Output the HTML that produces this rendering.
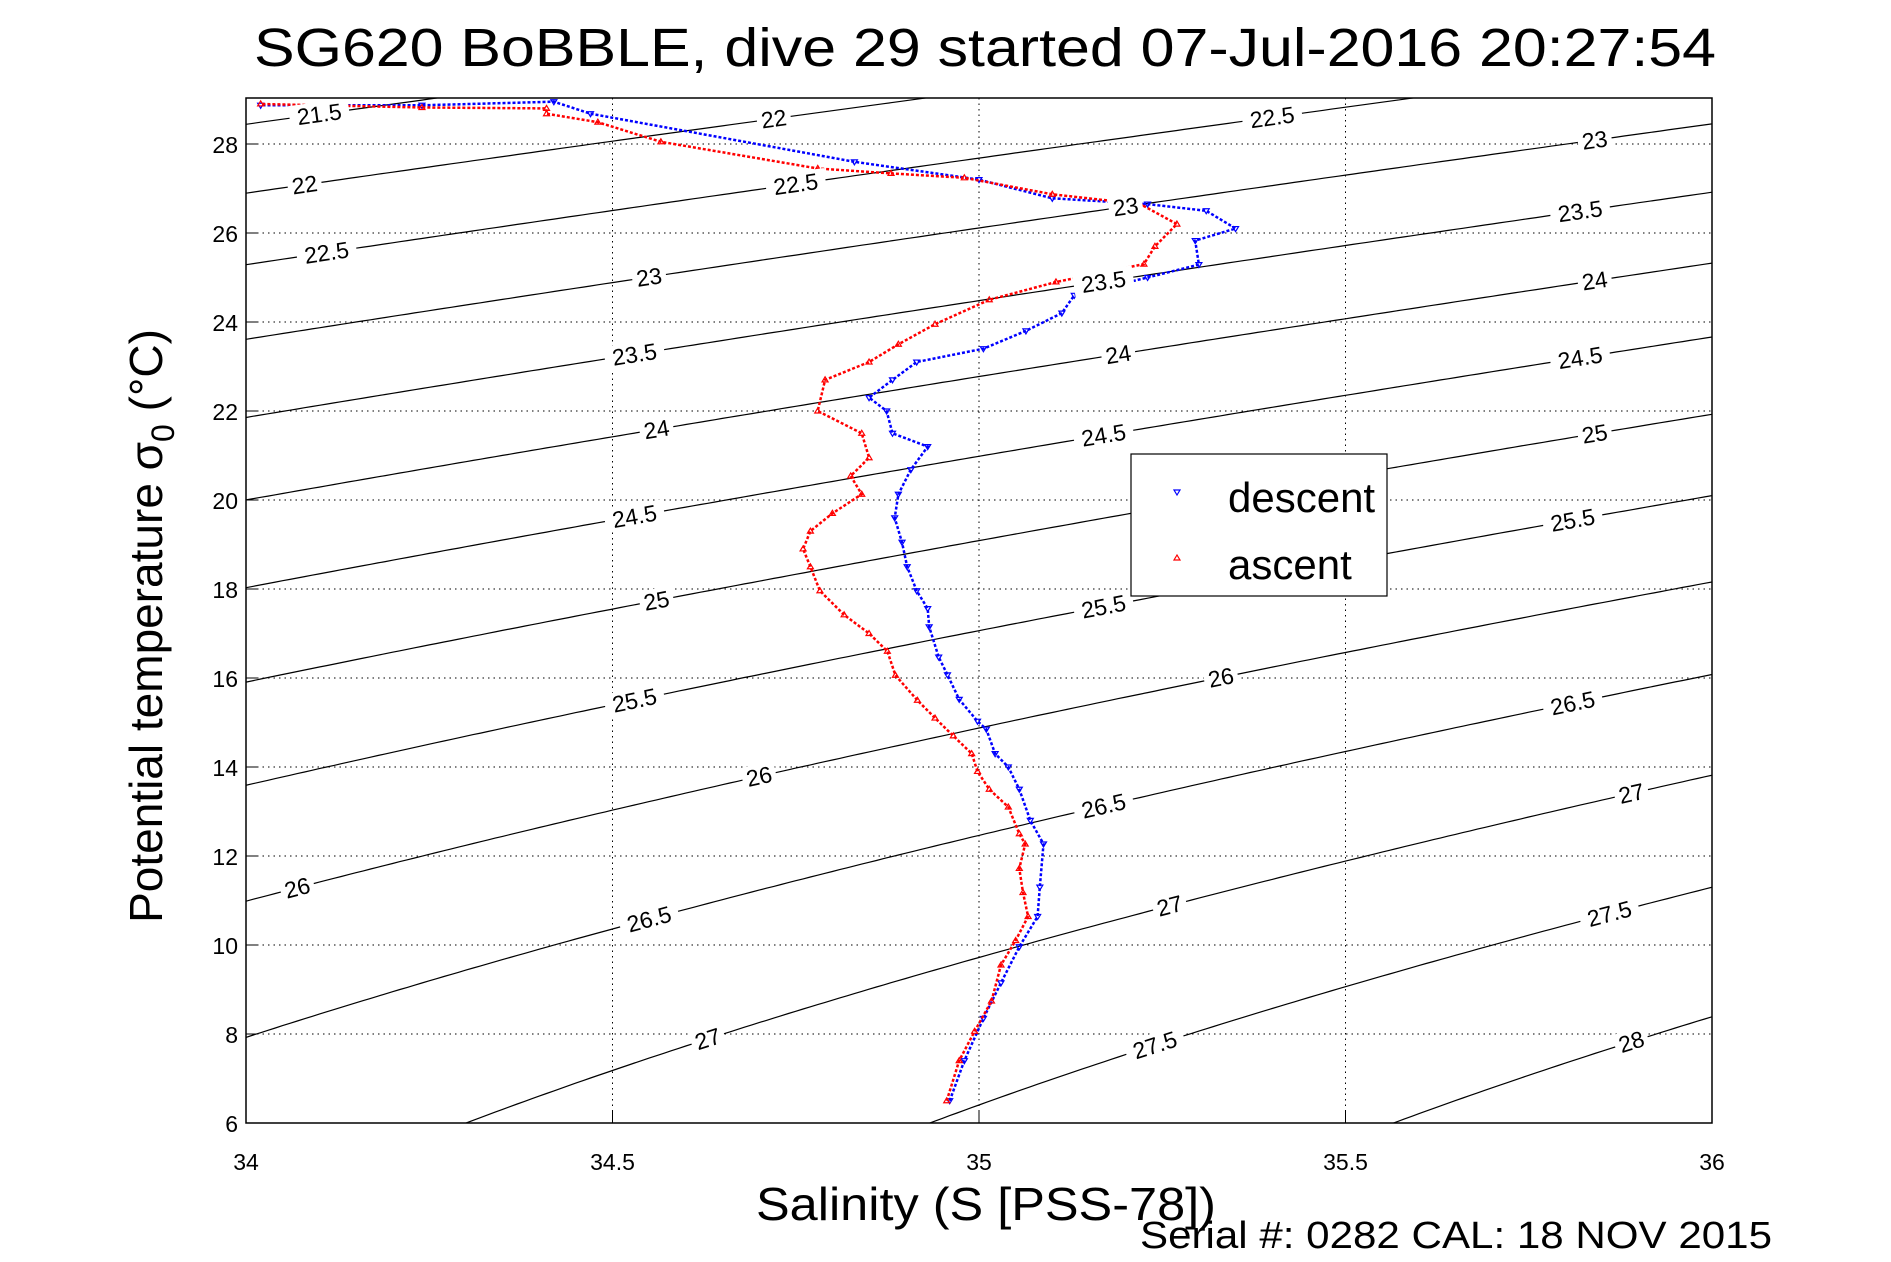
<!DOCTYPE html>
<html><head><meta charset="utf-8"><style>
html,body{margin:0;padding:0;background:#fff;overflow:hidden;width:1891px;height:1262px;}
svg{display:block;font-family:"Liberation Sans",sans-serif;}
</style></head><body>
<svg id="chart" width="1891" height="1262" viewBox="0 0 1891 1262" xmlns="http://www.w3.org/2000/svg">
<defs><clipPath id="plotclip"><rect x="246" y="98" width="1466" height="1025"/></clipPath></defs>
<rect width="1891" height="1262" fill="#fff"/>
<text x="985" y="66" font-size="54" text-anchor="middle" textLength="1462" lengthAdjust="spacingAndGlyphs">SG620 BoBBLE, dive 29 started 07-Jul-2016 20:27:54</text>
<g id="grid"></g>
<g id="contours" clip-path="url(#plotclip)"></g>
<g id="series" clip-path="url(#plotclip)"></g>
<g id="clabels"></g>
<rect x="246" y="98" width="1466" height="1025" fill="none" stroke="#000" stroke-width="1.5"/>
<g id="ticks"></g>
<text transform="translate(162,626) rotate(-90)" font-size="46" text-anchor="middle">Potential temperature σ<tspan font-size="32" dy="12">0</tspan><tspan dy="-12"> (°C)</tspan></text>
<text x="986" y="1220" font-size="46" text-anchor="middle" textLength="460" lengthAdjust="spacingAndGlyphs">Salinity (S [PSS-78])</text>
<text x="1140" y="1248" font-size="38" textLength="632" lengthAdjust="spacingAndGlyphs">Serial #: 0282  CAL: 18 NOV 2015</text>
<g>
<rect x="1131" y="454" width="256" height="142" fill="#fff" stroke="#000" stroke-width="1.2"/>
<path d="M1174,490 L1180,490 L1177,495 Z" fill="none" stroke="#00f" stroke-width="1.2"/>
<text x="1228" y="512" font-size="42">descent</text>
<path d="M1174,560 L1180,560 L1177,555 Z" fill="none" stroke="#f00" stroke-width="1.2"/>
<text x="1228" y="579" font-size="42">ascent</text>
</g>
</svg>
<script>
const xTicks=[34,34.5,35,35.5,36];
const yTicks=[6,8,10,12,14,16,18,20,22,24,26,28];
const sigmaLevels=[21.5,22,22.5,23,23.5,24,24.5,25,25.5,26,26.5,27,27.5,28];
const labelLevels=[21.5,22,22,22.5,22.5,22.5,23,23,23,23.5,23.5,23.5,24,24,24,24.5,24.5,24.5,25,25,25.5,25.5,25.5,26,26,26,26.5,26.5,26.5,27,27,27,27.5,27.5,28];
const labelSal=[34.1,34.08,34.72,34.11,34.75,35.4,34.55,35.2,35.84,34.53,35.17,35.82,34.56,35.19,35.84,34.53,35.17,35.82,34.56,35.84,34.53,35.17,35.81,34.07,34.7,35.33,34.55,35.17,35.81,34.63,35.26,35.89,35.24,35.86,35.89];
const descS=[34.96,34.98,35.006,35.03,35.055,35.08,35.083,35.088,35.07,35.055,35.04,35.022,35.01,34.998,34.973,34.957,34.945,34.932,34.93,34.915,34.902,34.895,34.885,34.89,34.907,34.93,34.882,34.874,34.85,34.882,34.915,35.006,35.064,35.113,35.13,35.23,35.3,35.295,35.35,35.31,35.23,35.1,35.0,34.83,34.47,34.42,34.24,34.02];
const descT=[6.5,7.4,8.35,9.15,9.96,10.64,11.3,12.27,12.8,13.5,14.0,14.3,14.85,15.03,15.52,16.07,16.47,17.15,17.56,17.96,18.5,19.05,19.6,20.13,20.68,21.2,21.5,22.0,22.3,22.7,23.1,23.4,23.8,24.2,24.6,25.0,25.29,25.83,26.1,26.5,26.65,26.78,27.2,27.6,28.68,28.95,28.87,28.87];
const ascS=[34.956,34.973,34.994,35.017,35.03,35.05,35.067,35.06,35.055,35.063,35.055,35.04,35.014,34.998,34.99,34.965,34.94,34.916,34.886,34.875,34.85,34.816,34.783,34.77,34.76,34.77,34.8,34.84,34.825,34.85,34.84,34.78,34.79,34.85,34.89,34.94,35.014,35.105,35.225,35.24,35.27,35.22,35.1,34.98,34.88,34.78,34.566,34.48,34.41,34.41,34.24,34.02];
const ascT=[6.5,7.4,8.06,8.74,9.55,10.1,10.64,11.18,11.72,12.27,12.5,13.1,13.5,13.9,14.3,14.7,15.1,15.5,16.06,16.6,17.0,17.42,17.96,18.5,18.9,19.3,19.7,20.13,20.54,20.95,21.5,22.0,22.7,23.1,23.5,23.95,24.5,24.9,25.3,25.7,26.2,26.65,26.87,27.24,27.34,27.45,28.05,28.49,28.68,28.8,28.82,28.9];

const NS='http://www.w3.org/2000/svg';
const X0=246,X1=1712,Y0=1123,Y1=144;
function xs(s){return X0+(s-34)/(36-34)*(X1-X0);}
function ys(t){return Y0-(t-6)/(28-6)*(Y0-Y1);}
function mk(tag,attrs,parent){const e=document.createElementNS(NS,tag);for(const k in attrs)e.setAttribute(k,attrs[k]);parent.appendChild(e);return e;}
function sigma0(S,T){
 const rw=999.842594+6.793952e-2*T-9.095290e-3*T*T+1.001685e-4*T**3-1.120083e-6*T**4+6.536332e-9*T**5;
 const A=8.24493e-1-4.0899e-3*T+7.6438e-5*T*T-8.2467e-7*T**3+5.3875e-9*T**4;
 const B=-5.72466e-3+1.0227e-4*T-1.6546e-6*T*T;
 return rw+A*S+B*Math.pow(S,1.5)+4.8314e-4*S*S-1000;}
function tFor(S,sig){let lo=-5,hi=45;for(let i=0;i<60;i++){const m=(lo+hi)/2;if(sigma0(S,m)>sig)lo=m;else hi=m;}return (lo+hi)/2;}

const grid=document.getElementById('grid');
xTicks.slice(1,-1).forEach(v=>{const l=mk('line',{x1:xs(v),x2:xs(v),y1:98,y2:Y0,stroke:'#000','stroke-width':1,'stroke-dasharray':'1.5 4'},grid);

});
yTicks.forEach(v=>{const l=mk('line',{x1:X0,x2:X1,y1:ys(v),y2:ys(v),stroke:'#000','stroke-width':1,'stroke-dasharray':'1.5 4'},grid);

});

const cont=document.getElementById('contours');
sigmaLevels.forEach(sig=>{let d='';for(let s=33.98;s<=36.03;s+=0.01){const t=tFor(s,sig);d+=(d?'L':'M')+xs(s).toFixed(1)+','+ys(t).toFixed(1);}
 const p=mk('path',{d:d,fill:'none',stroke:'#000','stroke-width':1.2},cont);
 
 });

const lab=document.getElementById('clabels');
labelLevels.forEach((sig,i)=>{const s=labelSal[i];const t=tFor(s,sig);const x=xs(s),y=ys(t);
 const x2=xs(s+0.02),y2=ys(tFor(s+0.02,sig));const ang=Math.atan2(y2-y,x2-x)*180/Math.PI;
 const g=mk('g',{transform:`translate(${x.toFixed(1)},${y.toFixed(1)}) rotate(${ang.toFixed(1)})`},lab);
 
 
 const w=String(sig).length*13+8;
 mk('rect',{x:-w/2,y:-12,width:w,height:24,fill:'#fff'},g);
 const tx=mk('text',{x:0,y:8,'font-size':23,'text-anchor':'middle'},g);tx.textContent=String(sig);});

const ser=document.getElementById('series');
function drawSeries(S,T,color,up,name){
 let d='';S.forEach((s,i)=>{d+=(i?'L':'M')+xs(s).toFixed(1)+','+ys(T[i]).toFixed(1);});
 const p=mk('path',{d:d,fill:'none',stroke:color,'stroke-width':2.5,'stroke-dasharray':'3 2'},ser);
 
 
 S.forEach((s,i)=>{const x=xs(s),y=ys(T[i]);const dd=up?`M${x-3},${y+2}L${x+3},${y+2}L${x},${y-3}Z`:`M${x-3},${y-2}L${x+3},${y-2}L${x},${y+3}Z`;
  const m=mk('path',{d:dd,fill:'none',stroke:color,'stroke-width':1.2},ser);
  
  });}
drawSeries(descS,descT,'#00f',false,'descent');
drawSeries(ascS,ascT,'#f00',true,'ascent');

const tk=document.getElementById('ticks');
xTicks.forEach(v=>{mk('line',{x1:xs(v),x2:xs(v),y1:Y0,y2:Y0-12,stroke:'#000'},tk);
 const t=mk('text',{x:xs(v),y:1170,'font-size':23,'text-anchor':'middle'},tk);t.textContent=String(v);
 
 });
yTicks.forEach(v=>{mk('line',{x1:X0,x2:X0+12,y1:ys(v),y2:ys(v),stroke:'#000'},tk);
 const t=mk('text',{x:238,y:ys(v)+9,'font-size':23,'text-anchor':'end'},tk);t.textContent=String(v);
 
 });
</script>
</body></html>
